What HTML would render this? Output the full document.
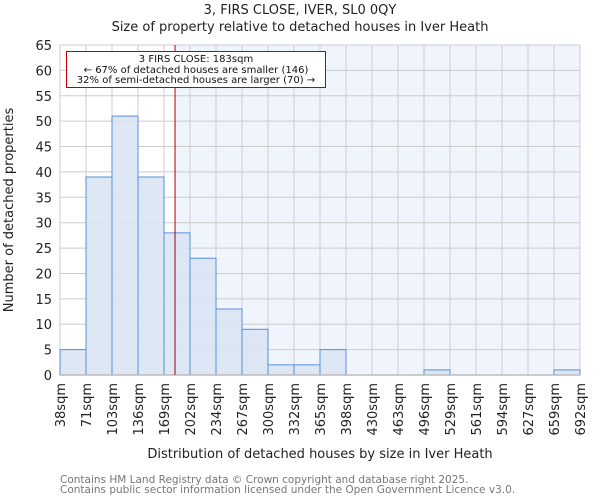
<!DOCTYPE html>
<html><head><meta charset="utf-8"><style>body{margin:0;background:#fff}svg{display:block;font-family:"DejaVu Sans","Liberation Sans",sans-serif}</style></head>
<body>
<svg id="c" width="600" height="500"></svg>
<script>
const binEdges=[38,71,103,136,169,202,234,267,300,332,365,398,430,463,496,529,561,594,627,659,692];
const counts=[5,39,51,39,28,23,13,9,2,2,5,0,0,0,1,0,0,0,0,1];
const yTicks=[0,5,10,15,20,25,30,35,40,45,50,55,60,65];
const subjectSize=183;
const L=60,R=580,T=45,B=375,yMax=65;
const NS='http://www.w3.org/2000/svg';
const svg=document.getElementById('c');
const xi=i=>L+(R-L)*i/(binEdges.length-1);
const xv=v=>{for(let i=0;i<binEdges.length-1;i++){if(v<=binEdges[i+1])return xi(i)+(v-binEdges[i])/(binEdges[i+1]-binEdges[i])*(xi(i+1)-xi(i));}return R;};
const y=v=>B-(B-T)*v/yMax;
function mk(t,a,p,txt){const e=document.createElementNS(NS,t);for(const k in a)e.setAttribute(k,a[k]);if(txt!=null)e.textContent=txt;(p||svg).appendChild(e);return e;}
const sx=xv(subjectSize);
let e;
e=mk('rect',{x:sx,y:T,width:R-sx,height:B-T,fill:'#f0f4fc'});


yTicks.forEach(t=>{e=mk('line',{x1:L,x2:R,y1:y(t),y2:y(t),stroke:'#cccccc','stroke-width':1});


e=mk('text',{x:L-8,y:y(t)+5,'text-anchor':'end','font-size':13,fill:'#222'},null,String(t));

});
binEdges.forEach((b,i)=>{e=mk('line',{x1:xi(i),x2:xi(i),y1:T,y2:B,stroke:'#cccccc','stroke-width':1});


const tx=xi(i)+5;
e=mk('text',{x:0,y:0,transform:`translate(${tx},${B+8}) rotate(-90)`,'text-anchor':'end','font-size':13,fill:'#222'},null,b+'sqm');

});
counts.forEach((c,i)=>{if(c<=0)return;e=mk('rect',{x:xi(i),y:y(c),width:xi(i+1)-xi(i),height:B-y(c),fill:'#dae4f3','fill-opacity':0.9,stroke:'#5a8fd8','stroke-width':1});

});
e=mk('line',{x1:L,x2:R,y1:B,y2:B,stroke:'#bbbbbb','stroke-width':1.5});


e=mk('line',{x1:sx,x2:sx,y1:T,y2:B,stroke:'#b00000','stroke-width':1});


const g=mk('g',{});


mk('rect',{x:66.5,y:51.5,width:259,height:36,fill:'#fff',stroke:'#c00000','stroke-width':1},g);
mk('text',{x:196,y:62,'text-anchor':'middle','font-size':10,fill:'#111'},g,'3 FIRS CLOSE: 183sqm');
mk('text',{x:196,y:73,'text-anchor':'middle','font-size':10,fill:'#111'},g,'← 67% of detached houses are smaller (146)');
mk('text',{x:196,y:83,'text-anchor':'middle','font-size':10,fill:'#111'},g,'32% of semi-detached houses are larger (70) →');
</script>
<svg width="600" height="500" style="position:absolute;left:0;top:0">
<text x="300" y="14" text-anchor="middle" font-size="13" fill="#222">3, FIRS CLOSE, IVER, SL0 0QY</text>
<text x="300" y="31" text-anchor="middle" font-size="13" fill="#222">Size of property relative to detached houses in Iver Heath</text>
<text x="0" y="0" transform="translate(13,210) rotate(-90)" text-anchor="middle" font-size="13" fill="#222">Number of detached properties</text>
<text x="320" y="458" text-anchor="middle" font-size="13" fill="#222">Distribution of detached houses by size in Iver Heath</text>
<text x="60" y="483" font-size="10.5" fill="#777">Contains HM Land Registry data © Crown copyright and database right 2025.</text>
<text x="60" y="493" font-size="10.5" fill="#777">Contains public sector information licensed under the Open Government Licence v3.0.</text>
</svg>
</body></html>
